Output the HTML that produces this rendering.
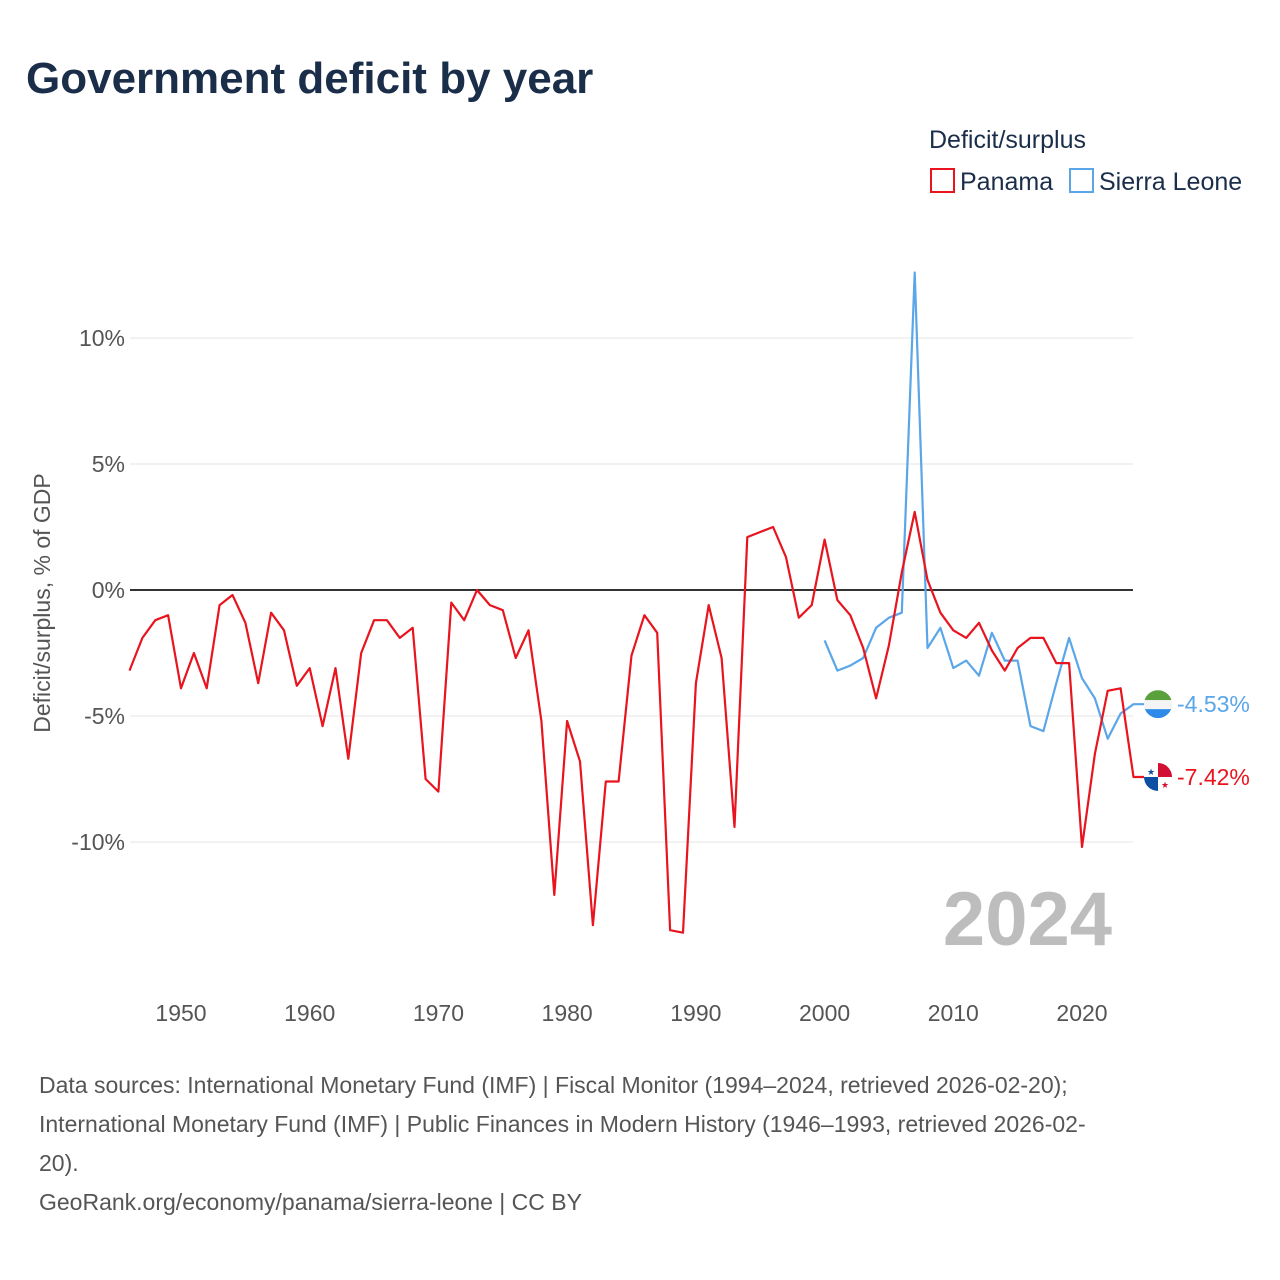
<!DOCTYPE html>
<html><head><meta charset="utf-8">
<style>
body{margin:0;background:#fff;font-family:"Liberation Sans",sans-serif;}
#wrap{position:relative;width:1280px;height:1280px;overflow:hidden;}
</style></head>
<body>
<div id="wrap">
<svg id="chart" width="1280" height="1280" xmlns="http://www.w3.org/2000/svg">
<text x="26" y="93" font-size="44" font-weight="bold" fill="#1a2e4a">Government deficit by year</text>
<text x="929" y="148" font-size="25" fill="#1a2e4a">Deficit/surplus</text>
<g><rect x="931" y="169" width="23" height="23" fill="none" stroke="#e8141e" stroke-width="2"/><text x="960" y="190" font-size="25" fill="#1a2e4a">Panama</text></g>
<g><rect x="1070" y="169" width="23" height="23" fill="none" stroke="#5aa6e8" stroke-width="2"/><text x="1099" y="190" font-size="25" fill="#1a2e4a">Sierra Leone</text></g>
<text transform="translate(50,603) rotate(-90)" text-anchor="middle" font-size="23" fill="#555">Deficit/surplus, % of GDP</text>
<g id="grid"></g><g id="yticks"></g><g id="xticks"></g>
<text x="1112" y="945" text-anchor="end" font-size="76" font-weight="bold" fill="#bdbdbd">2024</text>
<g id="series"></g>
<g font-size="23" fill="#555">
<text x="39" y="1093">Data sources: International Monetary Fund (IMF) | Fiscal Monitor (1994–2024, retrieved 2026-02-20);</text>
<text x="39" y="1132">International Monetary Fund (IMF) | Public Finances in Modern History (1946–1993, retrieved 2026-02-</text>
<text x="39" y="1171">20).</text>
<text x="39" y="1210">GeoRank.org/economy/panama/sierra-leone | CC BY</text>
</g>
</svg>
</div>
<script>
const panamaYears=[];for(let y=1946;y<=2024;y++)panamaYears.push(y);
const panamaValues=[-3.2,-1.9,-1.2,-1.0,-3.9,-2.5,-3.9,-0.6,-0.2,-1.3,-3.7,-0.9,-1.6,-3.8,-3.1,-5.4,-3.1,-6.7,-2.5,-1.2,-1.2,-1.9,-1.5,-7.5,-8.0,-0.5,-1.2,0.0,-0.6,-0.8,-2.7,-1.6,-5.2,-12.1,-5.2,-6.8,-13.3,-7.6,-7.6,-2.6,-1.0,-1.7,-13.5,-13.6,-3.7,-0.6,-2.7,-9.4,2.1,2.3,2.5,1.3,-1.1,-0.6,2.0,-0.4,-1.0,-2.3,-4.3,-2.2,0.7,3.1,0.4,-0.9,-1.6,-1.9,-1.3,-2.4,-3.2,-2.3,-1.9,-1.9,-2.9,-2.9,-10.2,-6.5,-4.0,-3.9,-7.42];
const sierraYears=[];for(let y=2000;y<=2024;y++)sierraYears.push(y);
const sierraValues=[-2.0,-3.2,-3.0,-2.7,-1.5,-1.1,-0.9,12.6,-2.3,-1.5,-3.1,-2.8,-3.4,-1.7,-2.8,-2.8,-5.4,-5.6,-3.7,-1.9,-3.5,-4.3,-5.9,-4.9,-4.53];
const yTickValues=[10,5,0,-5,-10];
const yTickLabels=["10%","5%","0%","-5%","-10%"];
const xTickValues=[1950,1960,1970,1980,1990,2000,2010,2020];
const NS="http://www.w3.org/2000/svg";
const xS=v=>181+(v-1950)*(1082-181)/70;
const yS=v=>590-v*25.2;
function mk(tag,attrs,parent){const e=document.createElementNS(NS,tag);for(const k in attrs)e.setAttribute(k,attrs[k]);parent.appendChild(e);return e;}
const grid=document.getElementById('grid'),yt=document.getElementById('yticks'),xt=document.getElementById('xticks'),ser=document.getElementById('series');
yTickValues.forEach((v,i)=>{
 const l=mk('line',{x1:130,x2:1133,y1:yS(v),y2:yS(v),stroke:v===0?'#333':'#e6e6e6','stroke-width':v===0?2:1},grid);
 
 
 const t=mk('text',{x:125,y:yS(v)+8,'text-anchor':'end','font-size':23,fill:'#555'},yt);
 t.textContent=yTickLabels[i];
 
 
});
xTickValues.forEach(v=>{
 const t=mk('text',{x:xS(v),y:1021,'text-anchor':'middle','font-size':23,fill:'#555'},xt);
 t.textContent=v;
 
 
});
function line(years,vals,color,name){
 const d=years.map((y,i)=>(i?'L':'M')+xS(y).toFixed(1)+','+yS(vals[i]).toFixed(1)).join('');
 const last=yS(vals[vals.length-1]);
 const p=mk('path',{d:d+'L1145,'+last.toFixed(1),fill:'none',stroke:color,'stroke-width':2.2,'stroke-linejoin':'round'},ser);
 
 
 return last;
}
const sl=line(sierraYears,sierraValues,'#5aa6e8','sierra-leone');
const pa=line(panamaYears,panamaValues,'#e8141e','panama');
// flags
const fs=mk('g',{},ser);


mk('clipPath',{id:'c1'},fs).appendChild(Object.assign(document.createElementNS(NS,'circle'),{}));
fs.querySelector('clipPath circle').setAttribute('cx',1158);fs.querySelector('clipPath circle').setAttribute('cy',sl);fs.querySelector('clipPath circle').setAttribute('r',14);
const g1=mk('g',{'clip-path':'url(#c1)'},fs);
mk('rect',{x:1144,y:sl-14,width:28,height:10,fill:'#5aa03c'},g1);
mk('rect',{x:1144,y:sl-4,width:28,height:9,fill:'#f4f4f4'},g1);
mk('rect',{x:1144,y:sl+5,width:28,height:10,fill:'#2d8ae8'},g1);
const t1=mk('text',{x:1177,y:sl+8,'font-size':23,fill:'#5aa6e8'},ser);
t1.textContent=sierraValues[sierraValues.length-1].toFixed(2)+'%';


const fp=mk('g',{},ser);


const cp=mk('clipPath',{id:'c2'},fp);mk('circle',{cx:1158,cy:pa,r:14},cp);
const g2=mk('g',{'clip-path':'url(#c2)'},fp);
mk('rect',{x:1144,y:pa-14,width:28,height:28,fill:'#fff'},g2);
mk('rect',{x:1158,y:pa-14,width:14,height:14,fill:'#d21034'},g2);
mk('rect',{x:1144,y:pa,width:14,height:14,fill:'#0b4ea2'},g2);
mk('text',{x:1151,y:pa-2,'font-size':9,fill:'#0b4ea2','text-anchor':'middle'},g2).textContent='★';
mk('text',{x:1165,y:pa+11,'font-size':9,fill:'#d21034','text-anchor':'middle'},g2).textContent='★';
const t2=mk('text',{x:1177,y:pa+8,'font-size':23,fill:'#e8141e'},ser);
t2.textContent=panamaValues[panamaValues.length-1].toFixed(2)+'%';


</script>
</body></html>
